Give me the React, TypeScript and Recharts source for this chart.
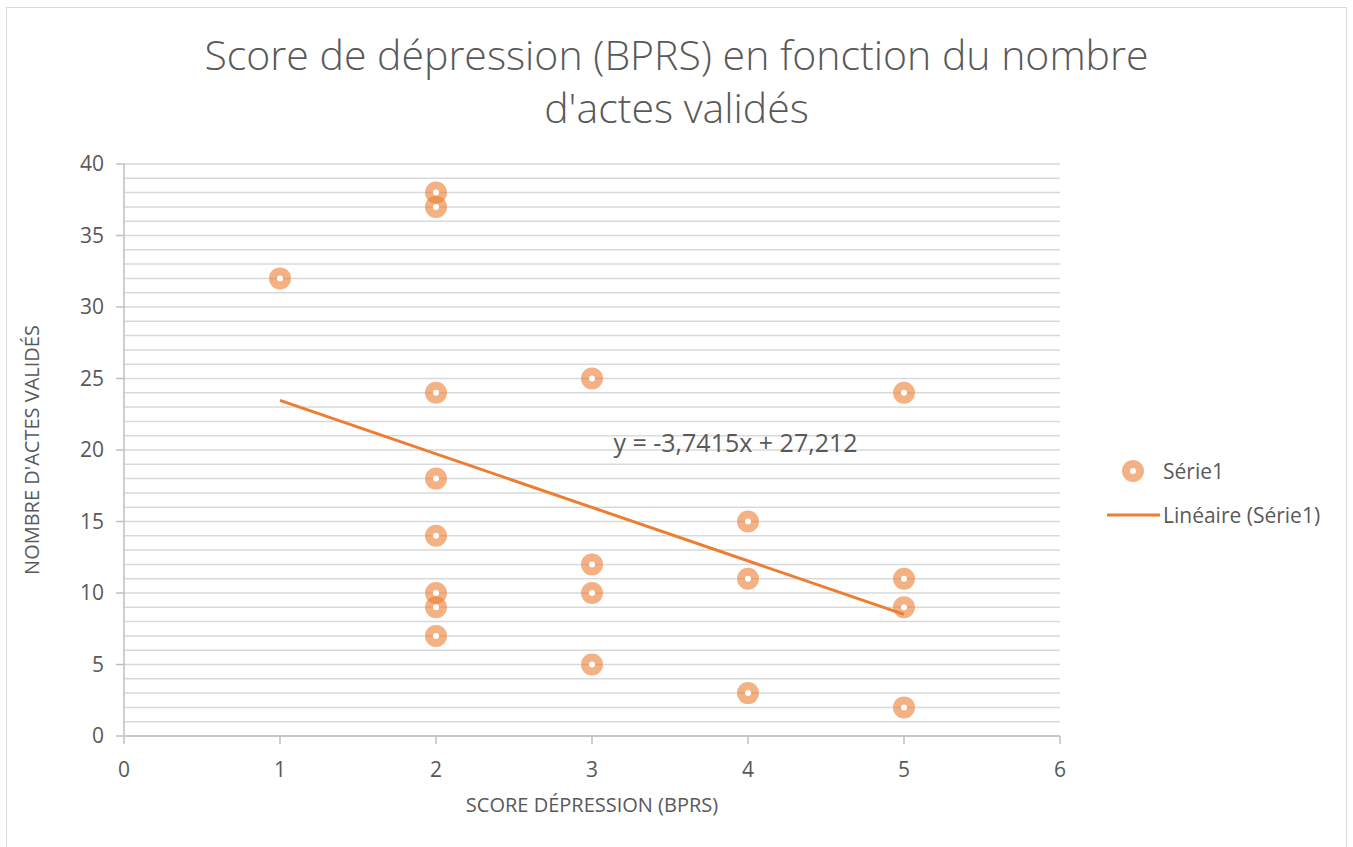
import React from 'react';
import {
  ScatterChart,
  Scatter,
  XAxis,
  YAxis,
  CartesianGrid,
  ReferenceDot,
} from 'recharts';

// Raw data
const scoreDepression = [1, 2, 2, 2, 2, 2, 2, 2, 2, 3, 3, 3, 3, 4, 4, 4, 5, 5, 5, 5];
const actesValides = [32, 38, 37, 24, 18, 14, 10, 9, 7, 25, 12, 10, 5, 15, 11, 3, 24, 11, 9, 2];

// Linear trend endpoints (y = -3,7415x + 27,212)
const trendX = [1, 5];
const trendY = [23.47, 8.5];

const xTicks = [0, 1, 2, 3, 4, 5, 6];
const yTicks = [0, 5, 10, 15, 20, 25, 30, 35, 40];
const yMax = 40;
const gridSteps = Array.from({ length: 41 }, (_, i) => i);

const points = scoreDepression.map((x, i) => ({ x, y: actesValides[i] }));
const trend = trendX.map((x, i) => ({ x, y: trendY[i] }));

const ORANGE = '#ED7D31';
const GREY = '#595959';
const FONT = '"Open Sans", "Liberation Sans", sans-serif';

const RingMarker = (props: any) => {
  const { cx, cy } = props;
  if (cx == null || cy == null) return null;
  return (
    <g>
      <circle cx={cx} cy={cy} r={11} fill={ORANGE} fillOpacity={0.6} />
      <circle cx={cx} cy={cy} r={3} fill="#fff" />
    </g>
  );
};

// minor grid every unit, mapped through the y scale when available
const gridGenerator = ({ yAxis, offset }: any) =>
  gridSteps.map((v) => {
    const s = yAxis && yAxis.scale;
    if (typeof s === 'function') return s(v);
    if (s && typeof s.map === 'function') return s.map(v);
    return offset.top + offset.height * (1 - v / yMax);
  });

export default function App() {
  return (
    <div style={{ position: 'absolute', left: 0, top: 0, width: 1353, height: 847, background: '#fff', fontFamily: FONT }}>
      <div style={{ position: 'absolute', left: 6, top: 7, width: 1341, height: 845, border: '1px solid #D9D9D9', boxSizing: 'border-box' }} />
      <div style={{ position: 'absolute', left: 0, top: 28, width: 1353, textAlign: 'center', color: GREY, fontSize: 41, fontWeight: 300, lineHeight: '53px' }}>
        Score de dépression (BPRS) en fonction du nombre<br />d'actes validés
      </div>
      <div style={{ position: 'absolute', left: 0, top: 0 }}>
        <ScatterChart width={1353} height={847} margin={{ top: 164, right: 293, bottom: 81, left: 64 }}>
          <CartesianGrid
            vertical={false}
            stroke="#D9D9D9"
            strokeWidth={1.5}
            horizontalCoordinatesGenerator={gridGenerator}
          />
          <XAxis
            type="number"
            dataKey="x"
            domain={[0, 6]}
            ticks={xTicks}
            height={30}
            axisLine={{ stroke: '#BFBFBF', strokeWidth: 1.5 }}
            tickLine={{ stroke: '#BFBFBF', strokeWidth: 1.5 }}
            tickSize={8}
            tick={{ fill: GREY, fontSize: 21, fontFamily: FONT, dy: 16 }}
          />
          <YAxis
            type="number"
            dataKey="y"
            domain={[0, yMax]}
            ticks={yTicks}
            width={60}
            axisLine={{ stroke: '#BFBFBF', strokeWidth: 1.5 }}
            tickLine={{ stroke: '#BFBFBF', strokeWidth: 1.5 }}
            tickSize={8}
            tick={{ fill: GREY, fontSize: 21, fontFamily: FONT, dx: -10 }}
          />
          <Scatter
            data={trend}
            line={{ stroke: ORANGE, strokeWidth: 3 }}
            shape={() => null}
            isAnimationActive={false}
          />
          <Scatter data={points} shape={RingMarker} isAnimationActive={false} />
          <ReferenceDot
            x={3.92}
            y={20.5}
            r={0}
            ifOverflow="visible"
            label={{ value: 'y = -3,7415x + 27,212', fill: GREY, fontSize: 25, fontFamily: FONT, position: 'center' }}
          />
        </ScatterChart>
      </div>
      <div style={{ position: 'absolute', left: 0, top: 791, width: 1184, textAlign: 'center', color: GREY, fontSize: 20 }}>
        SCORE DÉPRESSION (BPRS)
      </div>
      <div style={{ position: 'absolute', left: 31, top: 450, transform: 'translate(-50%, -50%) rotate(-90deg)', whiteSpace: 'nowrap', color: GREY, fontSize: 20 }}>
        NOMBRE D'ACTES VALIDÉS
      </div>
      <svg style={{ position: 'absolute', left: 1100, top: 455 }} width={250} height={80}>
        <circle cx={33} cy={16} r={11} fill={ORANGE} fillOpacity={0.6} />
        <circle cx={33} cy={16} r={3} fill="#fff" />
        <text x={63} y={16} dominantBaseline="central" fill={GREY} fontSize={21} fontFamily={FONT}>Série1</text>
        <line x1={7} x2={60} y1={60} y2={60} stroke={ORANGE} strokeWidth={3} />
        <text x={63} y={60} dominantBaseline="central" fill={GREY} fontSize={21} fontFamily={FONT}>Linéaire (Série1)</text>
      </svg>
    </div>
  );
}
